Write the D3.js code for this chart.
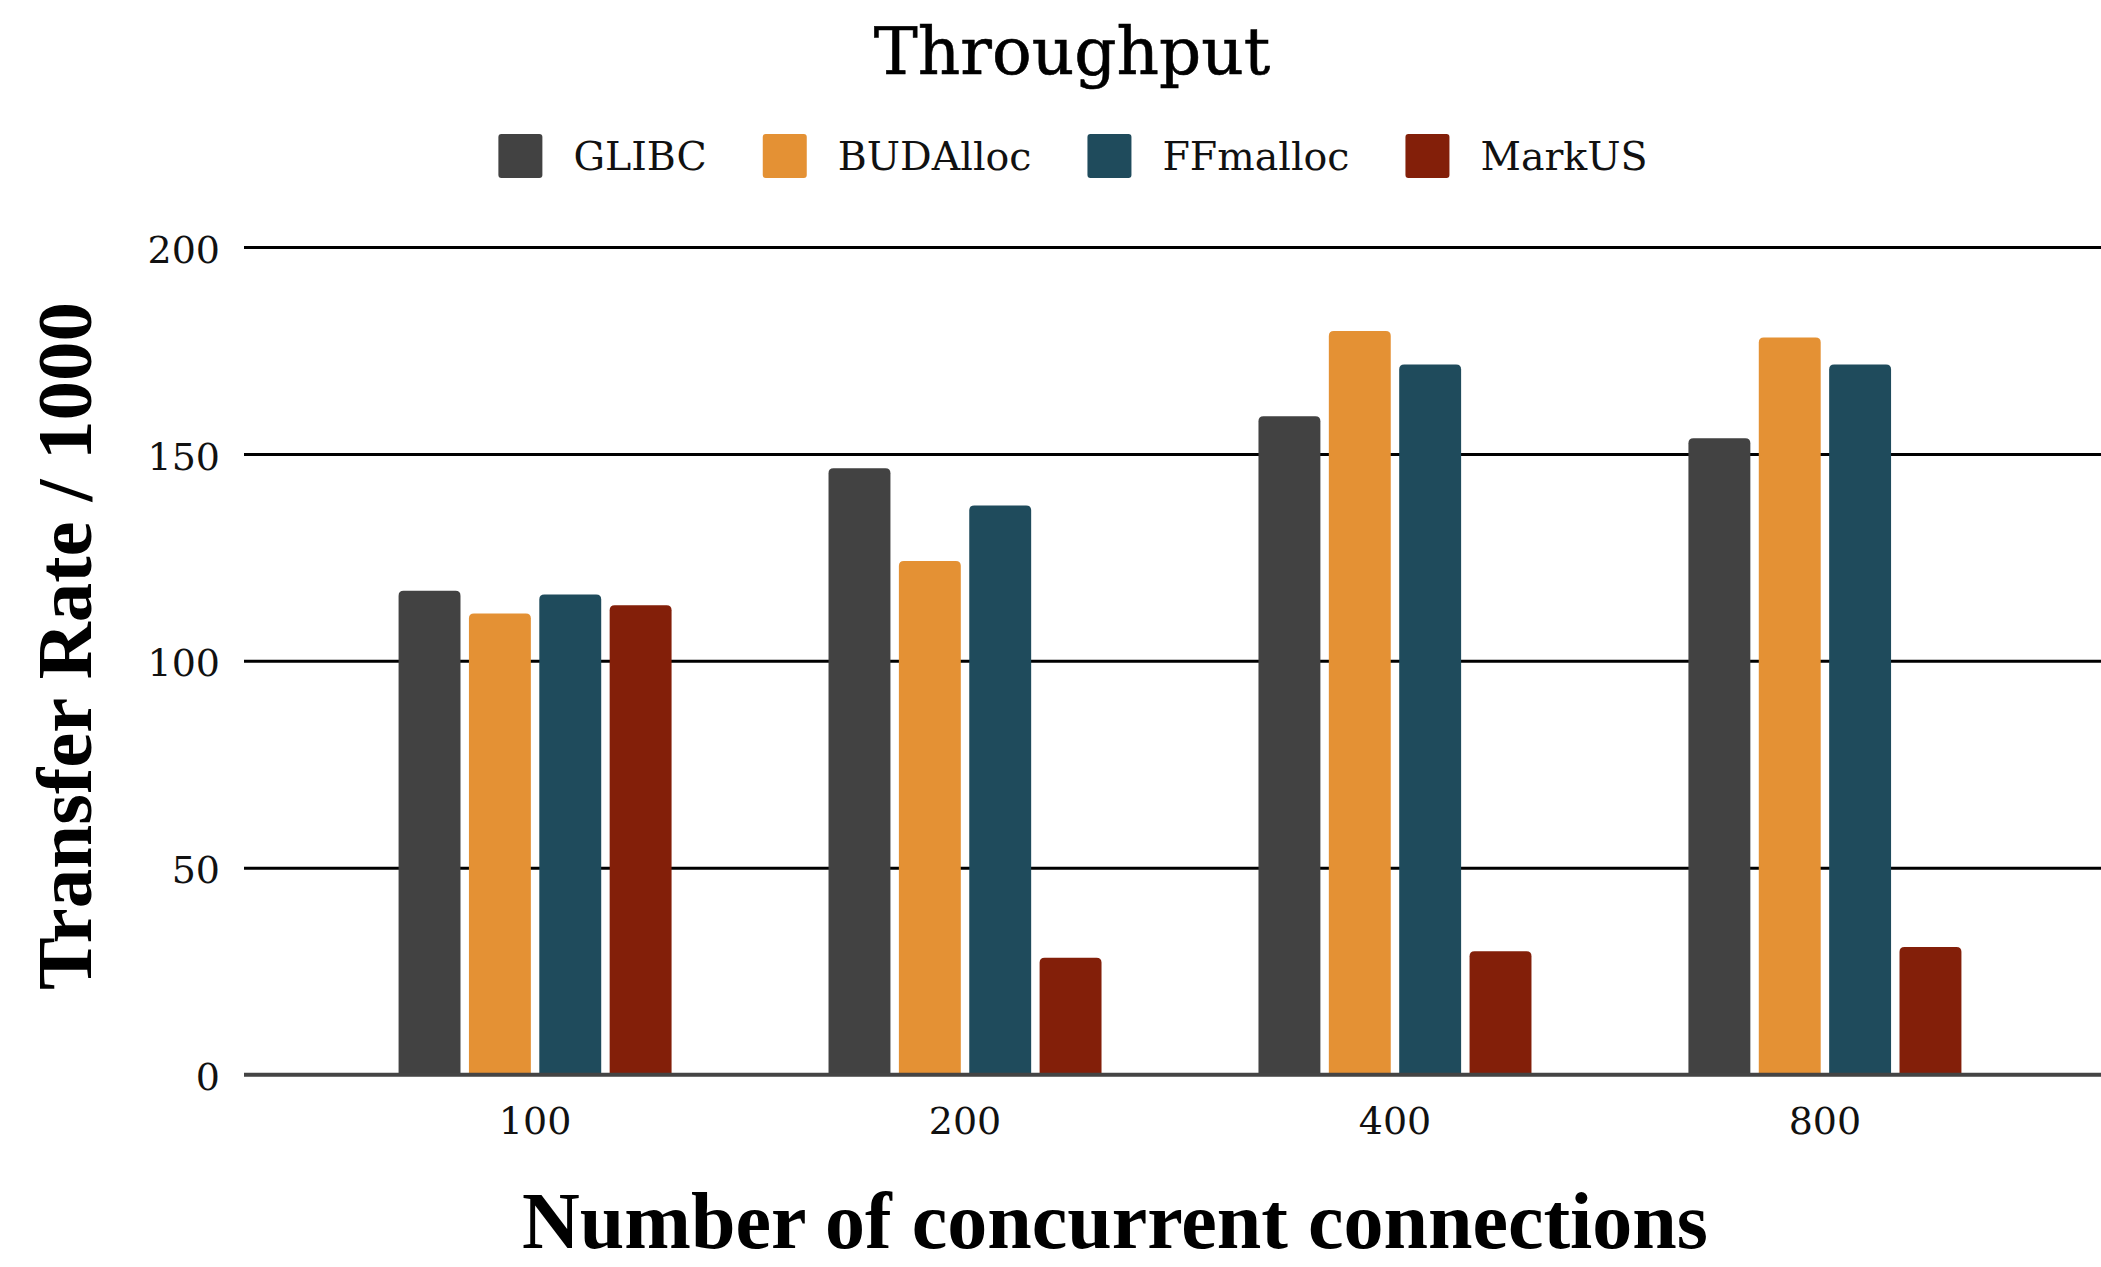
<!DOCTYPE html>
<html>
<head>
<meta charset="utf-8">
<script src="https://cdn.jsdelivr.net/npm/d3@7"></script>
<style>
  html, body { margin: 0; padding: 0; background: #fff; }
  svg { display: block; }
</style>
</head>
<body>
<script>
// Throughput per allocator, grouped by number of concurrent connections
const categories = ["100", "200", "400", "800"];
const seriesNames = ["GLIBC", "BUDAlloc", "FFmalloc", "MarkUS"];
const glibcValues    = [116.9, 146.5, 159.1, 153.8];
const budallocValues = [111.4, 124.1, 179.7, 178.1];
const ffmallocValues = [116.0, 137.5, 171.6, 171.6];
const markusValues   = [113.4, 28.2, 29.8, 30.8];
const seriesColors = ["#424242", "#E49134", "#1F4B5C", "#831F09"];
const yTickValues = [0, 50, 100, 150, 200];

const valuesBySeries = [glibcValues, budallocValues, ffmallocValues, markusValues];

const W = 2101, H = 1267;
const plotLeft = 244, plotRight = 2116;
const yTop = 247, yBottom = 1074.5;

const svg = d3.select("body").append("svg")
  .attr("width", W).attr("height", H)
  .attr("viewBox", `0 0 ${W} ${H}`);

const serif = "'DejaVu Serif', Georgia, serif";
const boldSerif = "'Liberation Serif', 'Times New Roman', serif";

const x0 = d3.scaleBand()
  .domain(categories)
  .range([plotLeft, plotRight])
  .paddingInner(0)
  .paddingOuter(0.177);

const groupWidth = 273;
const x1 = d3.scaleBand()
  .domain(seriesNames)
  .range([0, groupWidth])
  .paddingInner(0.12)
  .paddingOuter(0);

const y = d3.scaleLinear().domain([0, 200]).range([yBottom, yTop]);

const color = d3.scaleOrdinal().domain(seriesNames).range(seriesColors);

// Title
svg.append("text")
  .attr("x", 1072).attr("y", 74)
  .attr("text-anchor", "middle")
  .attr("font-family", serif)
  .attr("font-size", 66)
  .attr("fill", "#000")
  .attr("stroke", "#000")
  .attr("stroke-width", 0.6)
  .text("Throughput");

// Legend
const legend = svg.append("g");
const swatch = 44, swatchGap = 31, itemGap = 56, legendFont = 39.5;
let lx = 0;
seriesNames.forEach(name => {
  const item = legend.append("g").attr("transform", `translate(${lx},0)`);
  item.append("rect")
    .attr("x", 0).attr("y", -22)
    .attr("width", swatch).attr("height", swatch)
    .attr("rx", 3).attr("ry", 3)
    .attr("fill", color(name));
  const t = item.append("text")
    .attr("x", swatch + swatchGap).attr("y", 14)
    .attr("font-family", serif)
    .attr("font-size", legendFont)
    .attr("fill", "#111")
    .text(name);
  lx += swatch + swatchGap + t.node().getComputedTextLength() + itemGap;
});
const legendWidth = lx - itemGap;
legend.attr("transform", `translate(${1073 - legendWidth / 2},156)`);

// Y axis with gridlines
const yAxis = svg.append("g")
  .attr("transform", `translate(${plotLeft},0)`)
  .call(d3.axisLeft(y)
    .tickValues(yTickValues)
    .tickSize(-(W - plotLeft))
    .tickPadding(24));
yAxis.select(".domain").remove();
yAxis.selectAll(".tick line")
  .attr("stroke", "#000")
  .attr("stroke-width", 3);
yAxis.selectAll(".tick text")
  .attr("font-family", serif)
  .attr("font-size", 38)
  .attr("fill", "#111")
  .attr("dy", "0.4em");

// Bars with rounded top corners
function barPath(x, yv, w, h, r) {
  r = Math.min(r, h, w / 2);
  return `M${x},${yv + h}V${yv + r}Q${x},${yv} ${x + r},${yv}` +
         `H${x + w - r}Q${x + w},${yv} ${x + w},${yv + r}V${yv + h}Z`;
}

const groups = svg.append("g").selectAll("g")
  .data(categories)
  .join("g")
  .attr("transform", d => `translate(${x0(d) + x0.bandwidth() / 2 - groupWidth / 2},0)`);

groups.selectAll("path")
  .data((d, i) => seriesNames.map((s, j) => ({ series: s, value: valuesBySeries[j][i] })))
  .join("path")
  .attr("d", d => barPath(x1(d.series), y(d.value), x1.bandwidth(), y(0) - y(d.value), 5))
  .attr("fill", d => color(d.series));

// X axis baseline and labels
const xAxis = svg.append("g")
  .attr("transform", `translate(0,${yBottom})`)
  .call(d3.axisBottom(x0).tickSize(0).tickPadding(33));
xAxis.select(".domain").remove();
svg.append("line")
  .attr("x1", plotLeft).attr("x2", W)
  .attr("y1", yBottom).attr("y2", yBottom)
  .attr("stroke", "#444")
  .attr("stroke-width", 3.5);
xAxis.selectAll(".tick text")
  .attr("font-family", serif)
  .attr("font-size", 38)
  .attr("fill", "#111");

// Axis titles
svg.append("text")
  .attr("transform", "translate(91,646) rotate(-90)")
  .attr("text-anchor", "middle")
  .attr("font-family", boldSerif)
  .attr("font-weight", "bold")
  .attr("font-size", 79)
  .attr("fill", "#000")
  .text("Transfer Rate / 1000");

svg.append("text")
  .attr("x", 1115).attr("y", 1248)
  .attr("text-anchor", "middle")
  .attr("font-family", boldSerif)
  .attr("font-weight", "bold")
  .attr("font-size", 80)
  .attr("fill", "#000")
  .text("Number of concurrent connections");
</script>
</body>
</html>
